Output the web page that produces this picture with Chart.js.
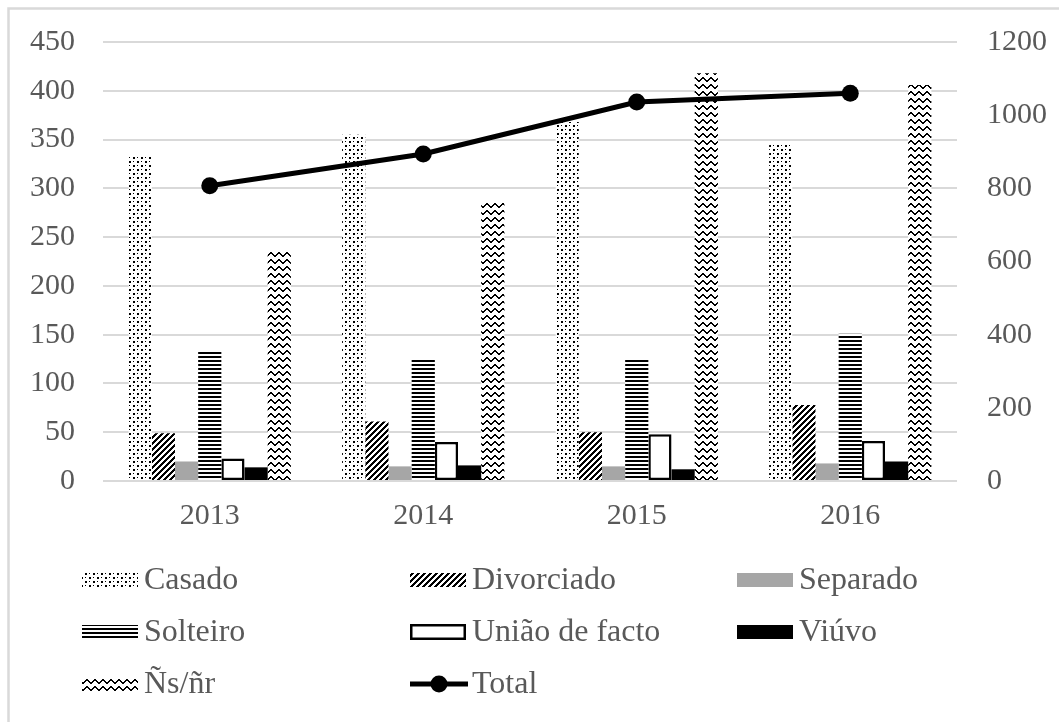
<!DOCTYPE html>
<html>
<head>
<meta charset="utf-8">
<script src="https://cdn.jsdelivr.net/npm/chart.js@4.4.1/dist/chart.umd.min.js"></script>
<style>
  html, body { margin: 0; padding: 0; background: #ffffff; }
  canvas { display: block; }
</style>
</head>
<body>
<canvas id="c" width="1059" height="722"></canvas>
<script>
// Categories and values
const years = ['2013', '2014', '2015', '2016'];
const casado     = [333, 355, 368, 346];
const divorciado = [49, 61, 50, 78];
const separado   = [20, 15, 15, 18];
const solteiro   = [133, 124, 124, 151];
const uniao      = [23, 40, 48, 41];
const viuvo      = [14, 16, 12, 20];
const nsnr       = [235, 285, 418, 406];
const total      = [807, 894, 1036, 1060];

// Axis ranges
const leftMax = 450, leftStep = 50;
const rightMax = 1200, rightStep = 200;

const FONT = '"Liberation Serif", "Times New Roman", serif';
const TEXT = '#595959';

const canvas = document.getElementById('c');
const ctx = canvas.getContext('2d');

// Pixel tile patterns, black on white
function tile(w, h, fn) {
  const c = document.createElement('canvas');
  c.width = w; c.height = h;
  const g = c.getContext('2d');
  g.fillStyle = '#ffffff';
  g.fillRect(0, 0, w, h);
  g.fillStyle = '#000000';
  for (let y = 0; y < h; y++)
    for (let x = 0; x < w; x++)
      if (fn(x, y)) g.fillRect(x, y, 1, 1);
  return ctx.createPattern(c, 'repeat');
}

const patDots = tile(8, 8, (x, y) =>
  (x >= 1 && x < 3 && y >= 1 && y < 3) || (x >= 5 && x < 7 && y >= 5 && y < 7) ||
  (x === 5 && y === 1) || (x === 1 && y === 5));
const patDiag = tile(6, 6, (x, y) => ((x + y) % 6) < 3);
const patHoriz = tile(1, 4, (x, y) => y < 2);
const waveY = [1, 2, 3, 3, 2, 1, 0, 0];
const patWave = tile(8, 7, (x, y) => y === waveY[x] || y === waveY[x] + 1);

const styles = {
  casado:     { fill: patDots, border: null },
  divorciado: { fill: patDiag, border: null },
  separado:   { fill: '#a6a6a6', border: null },
  solteiro:   { fill: patHoriz, border: null },
  uniao:      { fill: '#ffffff', border: '#000000' },
  viuvo:      { fill: '#000000', border: null },
  nsnr:       { fill: patWave, border: null }
};

function barSet(label, data, st) {
  return {
    type: 'bar',
    label: label,
    data: data,
    yAxisID: 'y',
    order: 1,
    backgroundColor: st.fill,
    borderColor: st.border || 'rgba(0,0,0,0)',
    borderWidth: st.border ? 2.5 : 0,
    borderSkipped: false,
    categoryPercentage: 0.76,
    barPercentage: 1.0
  };
}

// Outer frame
const framePlugin = {
  id: 'frame',
  beforeDraw(chart) {
    const g = chart.ctx;
    g.save();
    g.strokeStyle = '#d9d9d9';
    g.lineWidth = 2.5;
    g.strokeRect(8.5, 8.5, 1070, 730);
    g.restore();
  }
};

// Three-column legend below the plot
const legendItems = [
  { label: 'Casado', kind: 'box', st: styles.casado },
  { label: 'Divorciado', kind: 'box', st: styles.divorciado },
  { label: 'Separado', kind: 'box', st: styles.separado },
  { label: 'Solteiro', kind: 'box', st: styles.solteiro },
  { label: 'União de facto', kind: 'box', st: styles.uniao },
  { label: 'Viúvo', kind: 'box', st: styles.viuvo },
  { label: 'Ñs/ñr', kind: 'box', st: styles.nsnr },
  { label: 'Total', kind: 'line' }
];
const legendCols = [82, 410, 737];
const legendRows = [580, 632, 684];

const legendPlugin = {
  id: 'gridLegend',
  afterDraw(chart) {
    const g = chart.ctx;
    g.save();
    legendItems.forEach((it, i) => {
      const x = legendCols[i % 3];
      const y = legendRows[Math.floor(i / 3)];
      const w = 56, h = 14;
      if (it.kind === 'box') {
        if (it.st.border) {
          g.fillStyle = it.st.fill;
          g.fillRect(x, y - 8, w, 16);
          g.strokeStyle = it.st.border;
          g.lineWidth = 2.5;
          g.strokeRect(x + 1.25, y - 8 + 1.25, w - 2.5, 16 - 2.5);
        } else {
          g.fillStyle = it.st.fill;
          g.fillRect(x, y - h / 2, w, h);
        }
      } else {
        g.strokeStyle = '#000';
        g.lineWidth = 5;
        g.beginPath();
        g.moveTo(x, y);
        g.lineTo(x + 58, y);
        g.stroke();
        g.fillStyle = '#000';
        g.beginPath();
        g.arc(x + 29, y, 8.5, 0, Math.PI * 2);
        g.fill();
      }
      g.fillStyle = TEXT;
      g.font = '32px ' + FONT;
      g.textAlign = 'left';
      g.textBaseline = 'middle';
      g.fillText(it.label, x + 62, y + 1);
    });
    g.restore();
  }
};

new Chart(ctx, {
  data: {
    labels: years,
    datasets: [
      {
        type: 'line',
        label: 'Total',
        data: total,
        yAxisID: 'y1',
        order: 0,
        borderColor: '#000000',
        backgroundColor: '#000000',
        borderWidth: 5,
        pointRadius: 8.5,
        pointBackgroundColor: '#000000',
        pointBorderWidth: 0,
        tension: 0,
        fill: false
      },
      barSet('Casado', casado, styles.casado),
      barSet('Divorciado', divorciado, styles.divorciado),
      barSet('Separado', separado, styles.separado),
      barSet('Solteiro', solteiro, styles.solteiro),
      barSet('União de facto', uniao, styles.uniao),
      barSet('Viúvo', viuvo, styles.viuvo),
      barSet('Ñs/ñr', nsnr, styles.nsnr)
    ]
  },
  options: {
    responsive: false,
    animation: false,
    devicePixelRatio: 1,
    layout: { padding: { top: 42, left: 0, right: 0, bottom: 0 } },
    plugins: {
      legend: { display: false },
      tooltip: { enabled: false }
    },
    scales: {
      x: {
        grid: { display: false, drawTicks: false },
        border: { display: false },
        ticks: { color: TEXT, font: { family: FONT, size: 30 }, padding: 17 },
        afterFit(s) { s.height = 241; s.paddingLeft = 0; s.paddingRight = 0; }
      },
      y: {
        position: 'left',
        min: 0, max: leftMax,
        ticks: { stepSize: leftStep, color: TEXT, font: { family: FONT, size: 30 }, padding: 28 },
        grid: { color: '#d9d9d9', lineWidth: 2, drawTicks: false },
        border: { display: false },
        afterFit(s) { s.width = 103; s.paddingTop = 0; s.paddingBottom = 0; }
      },
      y1: {
        position: 'right',
        min: 0, max: rightMax,
        ticks: {
          stepSize: rightStep, color: TEXT, font: { family: FONT, size: 30 }, padding: 30,
          callback: (v) => String(v)
        },
        grid: { display: false, drawTicks: false },
        border: { display: false },
        afterFit(s) { s.width = 102; s.paddingTop = 0; s.paddingBottom = 0; }
      }
    }
  },
  plugins: [framePlugin, legendPlugin]
});
</script>
</body>
</html>
